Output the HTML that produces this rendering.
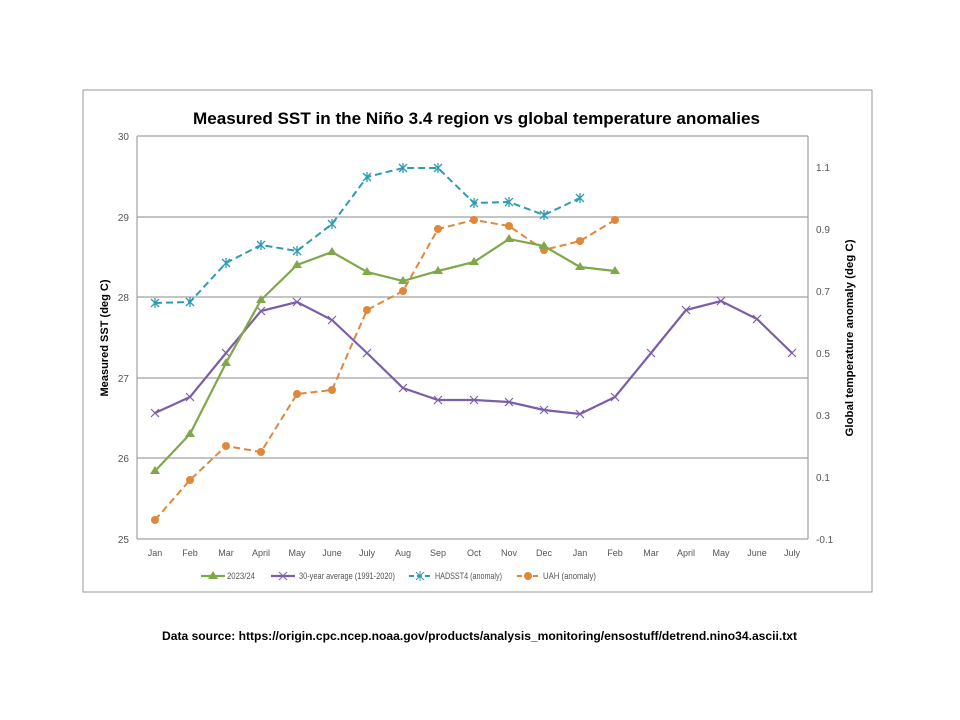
<!DOCTYPE html><html><head><style>body{margin:0;background:#fff}svg{display:block;font-family:"Liberation Sans",sans-serif}</style></head><body>
<svg width="960" height="720" xmlns="http://www.w3.org/2000/svg">
<rect x="83" y="90" width="789" height="502" fill="#fff" stroke="#999" stroke-width="1"/>
<text x="193" y="124" font-size="17" font-weight="bold" fill="#000" textLength="567" lengthAdjust="spacingAndGlyphs">Measured SST in the Niño 3.4 region vs global temperature anomalies</text>
<g stroke="#a0a0a0" stroke-width="1.2">
<line x1="137" y1="136" x2="808" y2="136"/><line x1="137" y1="217" x2="808" y2="217"/><line x1="137" y1="297" x2="808" y2="297"/><line x1="137" y1="378" x2="808" y2="378"/><line x1="137" y1="458" x2="808" y2="458"/><line x1="137" y1="539" x2="808" y2="539"/>
<line x1="137" y1="136" x2="137" y2="539"/><line x1="808" y1="136" x2="808" y2="539"/>
</g>
<g font-size="10" fill="#555" text-anchor="end">
<text x="129" y="140">30</text><text x="129" y="221">29</text><text x="129" y="301">28</text><text x="129" y="382">27</text><text x="129" y="462">26</text><text x="129" y="543">25</text>
</g>
<g font-size="10" fill="#555">
<text x="816" y="171">1.1</text><text x="816" y="233">0.9</text><text x="816" y="295">0.7</text><text x="816" y="357">0.5</text><text x="816" y="419">0.3</text><text x="816" y="481">0.1</text><text x="816" y="543">-0.1</text>
</g>
<g font-size="9" fill="#555" text-anchor="middle">
<text x="155" y="556">Jan</text><text x="190" y="556">Feb</text><text x="226" y="556">Mar</text><text x="261" y="556">April</text><text x="297" y="556">May</text><text x="332" y="556">June</text><text x="367" y="556">July</text><text x="403" y="556">Aug</text><text x="438" y="556">Sep</text><text x="474" y="556">Oct</text><text x="509" y="556">Nov</text><text x="544" y="556">Dec</text><text x="580" y="556">Jan</text><text x="615" y="556">Feb</text><text x="651" y="556">Mar</text><text x="686" y="556">April</text><text x="721" y="556">May</text><text x="757" y="556">June</text><text x="792" y="556">July</text>
</g>
<text transform="translate(108,338) rotate(-90)" text-anchor="middle" font-size="11" font-weight="bold" fill="#000" textLength="117" lengthAdjust="spacingAndGlyphs">Measured SST (deg C)</text>
<text transform="translate(853,338) rotate(-90)" text-anchor="middle" font-size="11" font-weight="bold" fill="#000" textLength="197" lengthAdjust="spacingAndGlyphs">Global temperature anomaly (deg C)</text>
<polyline fill="none" stroke="#2e9bb5" stroke-width="2" stroke-dasharray="7,4" points="155,303 190,302 226,263 261,245 297,251 332,224 367,177 403,168 438,168 474,203 509,202 544,215 580,198"/>
<g stroke="#2e9bb5" stroke-width="1.3" fill="none">
<path d="M151,299l8,8M159,299l-8,8M155,298v10"/><path d="M186,298l8,8M194,298l-8,8M190,297v10"/><path d="M222,259l8,8M230,259l-8,8M226,258v10"/><path d="M257,241l8,8M265,241l-8,8M261,240v10"/><path d="M293,247l8,8M301,247l-8,8M297,246v10"/><path d="M328,220l8,8M336,220l-8,8M332,219v10"/><path d="M363,173l8,8M371,173l-8,8M367,172v10"/><path d="M399,164l8,8M407,164l-8,8M403,163v10"/><path d="M434,164l8,8M442,164l-8,8M438,163v10"/><path d="M470,199l8,8M478,199l-8,8M474,198v10"/><path d="M505,198l8,8M513,198l-8,8M509,197v10"/><path d="M540,211l8,8M548,211l-8,8M544,210v10"/><path d="M576,194l8,8M584,194l-8,8M580,193v10"/>
</g>
<polyline fill="none" stroke="#e0883a" stroke-width="2" stroke-dasharray="7,4" points="155,520 190,480 226,446 261,452 297,394 332,390 367,310 403,291 438,229 474,220 509,226 544,250 580,241 615,220"/>
<g fill="#e0883a">
<circle cx="155" cy="520" r="4"/><circle cx="190" cy="480" r="4"/><circle cx="226" cy="446" r="4"/><circle cx="261" cy="452" r="4"/><circle cx="297" cy="394" r="4"/><circle cx="332" cy="390" r="4"/><circle cx="367" cy="310" r="4"/><circle cx="403" cy="291" r="4"/><circle cx="438" cy="229" r="4"/><circle cx="474" cy="220" r="4"/><circle cx="509" cy="226" r="4"/><circle cx="544" cy="250" r="4"/><circle cx="580" cy="241" r="4"/><circle cx="615" cy="220" r="4"/>
</g>
<polyline fill="none" stroke="#7a5ea8" stroke-width="2.2" points="155,413 190,397 226,353 261,311 297,302 332,320 367,353 403,388 438,400 474,400 509,402 544,410 580,414 615,397 651,353 686,310 721,301 757,319 792,353"/>
<g stroke="#7a5ea8" stroke-width="1.2">
<path d="M151,409l8,8M159,409l-8,8"/><path d="M186,393l8,8M194,393l-8,8"/><path d="M222,349l8,8M230,349l-8,8"/><path d="M257,307l8,8M265,307l-8,8"/><path d="M293,298l8,8M301,298l-8,8"/><path d="M328,316l8,8M336,316l-8,8"/><path d="M363,349l8,8M371,349l-8,8"/><path d="M399,384l8,8M407,384l-8,8"/><path d="M434,396l8,8M442,396l-8,8"/><path d="M470,396l8,8M478,396l-8,8"/><path d="M505,398l8,8M513,398l-8,8"/><path d="M540,406l8,8M548,406l-8,8"/><path d="M576,410l8,8M584,410l-8,8"/><path d="M611,393l8,8M619,393l-8,8"/><path d="M647,349l8,8M655,349l-8,8"/><path d="M682,306l8,8M690,306l-8,8"/><path d="M717,297l8,8M725,297l-8,8"/><path d="M753,315l8,8M761,315l-8,8"/><path d="M788,349l8,8M796,349l-8,8"/>
</g>
<polyline fill="none" stroke="#7ea84a" stroke-width="2.2" points="155,471 190,434 226,363 261,300 297,265 332,252 367,272 403,281 438,271 474,262 509,239 544,246 580,267 615,271"/>
<g fill="#7ea84a">
<path d="M155,466l5,8h-10z"/><path d="M190,429l5,8h-10z"/><path d="M226,358l5,8h-10z"/><path d="M261,295l5,8h-10z"/><path d="M297,260l5,8h-10z"/><path d="M332,247l5,8h-10z"/><path d="M367,267l5,8h-10z"/><path d="M403,276l5,8h-10z"/><path d="M438,266l5,8h-10z"/><path d="M474,257l5,8h-10z"/><path d="M509,234l5,8h-10z"/><path d="M544,241l5,8h-10z"/><path d="M580,262l5,8h-10z"/><path d="M615,266l5,8h-10z"/>
</g>
<g font-size="9" fill="#555">
<line x1="201" y1="576" x2="225" y2="576" stroke="#7ea84a" stroke-width="2.2"/><path d="M213,571l5,8h-10z" fill="#7ea84a"/><text x="227" y="579" textLength="28" lengthAdjust="spacingAndGlyphs">2023/24</text>
<line x1="271" y1="576" x2="295" y2="576" stroke="#7a5ea8" stroke-width="2.2"/><path d="M279,572l8,8M287,572l-8,8" stroke="#7a5ea8"/><text x="299" y="579" textLength="96" lengthAdjust="spacingAndGlyphs">30-year average (1991-2020)</text>
<line x1="409" y1="576" x2="431" y2="576" stroke="#2e9bb5" stroke-width="2" stroke-dasharray="5,3"/><path d="M416,572l8,8M424,572l-8,8M420,571v10" stroke="#2e9bb5"/><text x="435" y="579" textLength="67" lengthAdjust="spacingAndGlyphs">HADSST4 (anomaly)</text>
<line x1="517" y1="576" x2="539" y2="576" stroke="#e0883a" stroke-width="2" stroke-dasharray="5,3"/><circle cx="528" cy="576" r="4" fill="#e0883a"/><text x="543" y="579" textLength="53" lengthAdjust="spacingAndGlyphs">UAH (anomaly)</text>
</g>
<text x="162" y="640" font-size="12" font-weight="bold" fill="#000" textLength="635" lengthAdjust="spacingAndGlyphs">Data source: https://origin.cpc.ncep.noaa.gov/products/analysis_monitoring/ensostuff/detrend.nino34.ascii.txt</text>
</svg>
</body></html>
